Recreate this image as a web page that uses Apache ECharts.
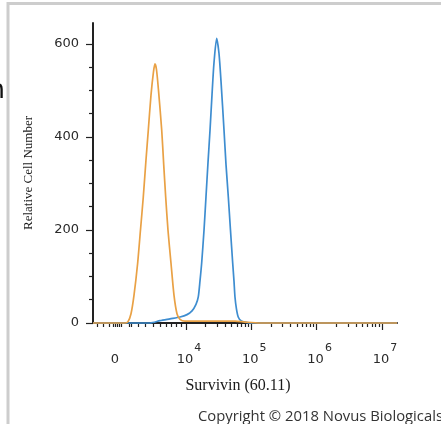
<!DOCTYPE html>
<html><head><meta charset="utf-8">
<script src="https://cdn.jsdelivr.net/npm/echarts@6/dist/echarts.min.js"></script>
<style>html,body{margin:0;padding:0;background:#fff;}#c{width:441px;height:424px;}</style>
</head><body><div id="c"></div>
<script>
// x values are in display "decade" units of the biexponential axis (10^4 -> 4)
const isotypeX = [2.576, 3.066, 3.112, 3.158, 3.204, 3.260, 3.303, 3.346, 3.387, 3.423, 3.464, 3.502, 3.525, 3.548, 3.579, 3.628, 3.659, 3.689, 3.724, 3.770, 3.816, 3.862, 3.908, 3.985, 4.061, 4.750, 4.904, 5.133, 7.231];
const isotypeY = [0, 0, 3, 20, 60, 129, 200, 271, 350, 415, 490, 540, 557, 545, 500, 415, 340, 271, 200, 129, 60, 20, 8, 4, 4, 4, 2, 0, 0];
const survivinX = [2.576, 3.449, 3.602, 3.755, 3.908, 4.015, 4.092, 4.153, 4.188, 4.214, 4.240, 4.276, 4.306, 4.337, 4.368, 4.398, 4.429, 4.470, 4.505, 4.536, 4.582, 4.613, 4.648, 4.681, 4.715, 4.735, 4.750, 4.773, 4.800, 4.842, 4.904, 5.011, 7.231];
const survivinY = [0, 0, 5, 9, 13, 18, 26, 40, 56, 90, 129, 200, 271, 345, 415, 490, 560, 612, 580, 520, 415, 340, 271, 200, 129, 90, 56, 30, 13, 5, 2, 0, 0];

// axis ticks / labels
const xLabelValues = [2.913, 4, 5, 6, 7];
const xLabelTexts = ['0', '10^4', '10^5', '10^6', '10^7'];
const xMajorTicks = [4, 5, 6, 7];
const xLinearMinorTicks = [2.637, 2.729, 2.821, 2.882, 2.913, 2.943, 2.974, 3.005, 3.127, 3.158, 3.265, 3.372, 3.495, 3.602, 3.694, 3.770, 3.847, 3.923];
const yLabelValues = [0, 200, 400, 600];
const yMinorTicks = [50, 100, 150, 250, 300, 350, 450, 500, 550];

const xMinor = xLinearMinorTicks.slice();
[4, 5, 6].forEach(n => { for (let k = 2; k <= 9; k++) xMinor.push(+(n + Math.log10(k)).toFixed(4)); });

const XMIN = 2.576, XMAX = 7.231, YMAX = 645;
const axisColor = '#222';

function xLabelFmt(v) {
  let i = xLabelValues.findIndex(a => Math.abs(a - v) < 1e-6);
  if (i < 0) return '';
  const t = xLabelTexts[i];
  if (t.indexOf('^') < 0) return '{z|' + t + '}';
  const p = t.split('^');
  return '{b|' + p[0] + '}{s|' + p[1] + '}';
}

// copyright line: stretch to the reference's wide letter spacing
const copyText = 'Copyright \u00A9 2018 Novus Biologicals';
const copyFont = '14px "Open Sans"';
const mctx = document.createElement('canvas').getContext('2d');
mctx.font = copyFont;
const copyScale = 245 / mctx.measureText(copyText).width;

const chart = echarts.init(document.getElementById('c'), null, {renderer: 'canvas'});
chart.setOption({
  animation: false,
  backgroundColor: '#fff',
  grid: {left: 93, top: 23, width: 304, height: 300, outerBoundsMode: 'none', containLabel: false},
  xAxis: [{
    type: 'value', min: XMIN, max: XMAX, position: 'bottom',
    name: 'Survivin (60.11)', nameLocation: 'middle', nameGap: 55,
    nameTextStyle: {fontFamily: 'Liberation Serif', fontSize: 16, color: '#1a1a1a', padding: [0, 14, 0, 0]},
    axisLine: {show: true, onZero: false, lineStyle: {color: axisColor, width: 2}},
    axisTick: {show: true, customValues: xMajorTicks, length: 7, lineStyle: {color: axisColor, width: 1.2}},
    axisLabel: {
      show: true, customValues: xLabelValues, margin: 20, formatter: xLabelFmt,
      rich: {
        z: {fontFamily: 'DejaVu Sans', fontSize: 13, color: '#2a2a2a', padding: [10, 0, 0, 0]},
        b: {fontFamily: 'DejaVu Sans', fontSize: 13, color: '#2a2a2a', padding: [10, 0, 0, 6]},
        s: {fontFamily: 'DejaVu Sans', fontSize: 11, color: '#2a2a2a', verticalAlign: 'top', padding: [0, 0, 0, 1]}
      }
    },
    splitLine: {show: false}
  }, {
    type: 'value', min: XMIN, max: XMAX, position: 'bottom', offset: 0,
    axisLine: {show: false},
    axisTick: {show: true, customValues: xMinor, length: 4, lineStyle: {color: axisColor, width: 1.2}},
    axisLabel: {show: false},
    splitLine: {show: false}
  }],
  yAxis: [{
    type: 'value', min: 0, max: YMAX, position: 'left',
    name: 'Relative Cell Number', nameLocation: 'middle', nameGap: 58,
    nameTextStyle: {fontFamily: 'Liberation Serif', fontSize: 13, color: '#1a1a1a'},
    axisLine: {show: true, onZero: false, lineStyle: {color: axisColor, width: 2}},
    axisTick: {show: true, customValues: yLabelValues, length: 7, lineStyle: {color: axisColor, width: 1.2}},
    axisLabel: {show: true, customValues: yLabelValues, margin: 14, fontFamily: 'DejaVu Sans', fontSize: 13, color: '#2a2a2a'},
    splitLine: {show: false}
  }, {
    type: 'value', min: 0, max: YMAX, position: 'left', offset: 0,
    axisLine: {show: false},
    axisTick: {show: true, customValues: yMinorTicks, length: 4, lineStyle: {color: axisColor, width: 1.2}},
    axisLabel: {show: false},
    splitLine: {show: false}
  }],
  series: [{
    name: 'Survivin', type: 'line', xAxisIndex: 0, yAxisIndex: 0,
    data: survivinX.map((x, i) => [x, survivinY[i]]),
    showSymbol: false, smooth: 0.25, clip: false,
    lineStyle: {color: '#3E8DD0', width: 1.7}, z: 3
  }, {
    name: 'Isotype control', type: 'line', xAxisIndex: 0, yAxisIndex: 0,
    data: isotypeX.map((x, i) => [x, isotypeY[i]]),
    showSymbol: false, smooth: 0.25, clip: false,
    lineStyle: {color: '#E9A145', width: 1.7}, z: 4
  }],
  graphic: [
    {type: 'line', shape: {x1: 8, y1: 3.5, x2: 441, y2: 3.5}, style: {stroke: '#cdcdcd', lineWidth: 3}, silent: true},
    {type: 'line', shape: {x1: 8, y1: 2, x2: 8, y2: 424}, style: {stroke: '#cdcdcd', lineWidth: 3}, silent: true},
    {type: 'text', style: {text: 'n', x: 5, y: 91, align: 'right', verticalAlign: 'middle', font: '26px "DejaVu Sans"', fill: '#111'}, silent: true},
    {type: 'text', x: 198, y: 417, scaleX: copyScale, style: {text: copyText, x: 0, y: 0, align: 'left', verticalAlign: 'middle', font: copyFont, fill: '#333'}, silent: true}
  ]
});
</script>
</body></html>
